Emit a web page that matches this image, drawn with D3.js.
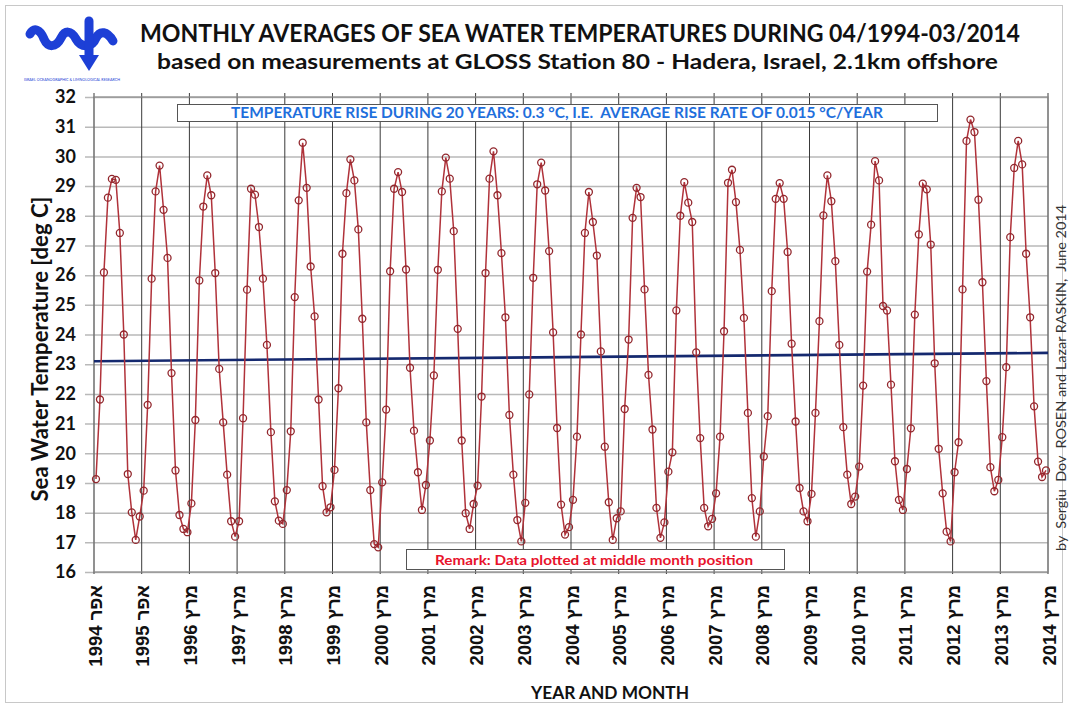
<html>

<head>
    <meta charset="utf-8">
    <script src="https://d3js.org/d3.v7.min.js"></script>
    <style>
        body { margin: 0; background: #fff; }
    </style>
</head>

<body>
    <svg id="chart" width="1069" height="704"></svg>
    <script>
        // monthly means, Apr 1994 .. Mar 2014
        var temps1994_1999 = [
            19.13, 21.81, 26.09, 28.61, 29.24, 29.21, 27.42, 24.00, 19.30, 18.01, 17.08, 17.87,
            18.74, 21.63, 25.88, 28.82, 29.69, 28.20, 26.58, 22.70, 19.42, 17.92, 17.45, 17.34,
            18.31, 21.12, 25.82, 28.31, 29.36, 28.69, 26.07, 22.84, 21.04, 19.28, 17.71, 17.19,
            17.71, 21.18, 25.51, 28.91, 28.71, 27.62, 25.88, 23.65, 20.71, 18.38, 17.73, 17.62,
            18.76, 20.74, 25.26, 28.52, 30.46, 28.94, 26.29, 24.61, 21.81, 18.89, 18.01, 18.18
        ];
        var temps1999_2004 = [
            19.44, 22.19, 26.72, 28.76, 29.90, 29.19, 27.54, 24.53, 21.04, 18.76, 16.94, 16.83,
            19.02, 21.47, 26.13, 28.91, 29.47, 28.80, 26.19, 22.88, 20.76, 19.36, 18.09, 18.93,
            20.43, 22.62, 26.18, 28.82, 29.96, 29.25, 27.48, 24.19, 20.43, 17.98, 17.45, 18.29,
            18.91, 21.91, 26.07, 29.25, 30.17, 28.69, 26.74, 24.58, 21.29, 19.28, 17.75, 17.03,
            18.33, 21.98, 25.91, 29.06, 29.79, 28.85, 26.81, 24.07, 20.85, 18.27, 17.26, 17.51
        ];
        var temps2004_2009 = [
            18.43, 20.56, 24.00, 27.42, 28.80, 27.79, 26.66, 23.43, 20.22, 18.35, 17.08, 17.81,
            18.04, 21.49, 23.83, 27.93, 28.94, 28.63, 25.52, 22.64, 20.80, 18.16, 17.15, 17.67,
            19.38, 20.03, 24.81, 28.00, 29.13, 28.44, 27.79, 23.40, 20.51, 18.16, 17.54, 17.79,
            18.65, 20.56, 24.11, 29.11, 29.55, 28.46, 26.85, 24.56, 21.36, 18.49, 17.19, 18.04,
            19.89, 21.25, 25.46, 28.57, 29.10, 28.57, 26.78, 23.69, 21.07, 18.83, 18.04, 17.71
        ];
        var temps2009_2014 = [
            18.63, 21.36, 24.45, 28.01, 29.36, 28.49, 26.47, 23.65, 20.88, 19.28, 18.29, 18.54,
            19.55, 22.28, 26.12, 27.70, 29.84, 29.19, 24.96, 24.81, 22.31, 19.73, 18.43, 18.09,
            19.47, 20.84, 24.67, 27.37, 29.08, 28.89, 27.03, 23.03, 20.15, 18.65, 17.36, 17.03,
            19.36, 20.37, 25.52, 30.52, 31.24, 30.82, 28.54, 25.76, 22.43, 19.53, 18.72, 19.10,
            20.54, 22.90, 27.28, 29.61, 30.52, 29.73, 26.72, 24.58, 21.58, 19.72, 19.20, 19.42
        ];
        var trendEnds = [23.10, 23.38];
        var yearLabels = ["1994 אפר", "1995 אפר", "1996 מרץ", "1997 מרץ", "1998 מרץ", "1999 מרץ",
            "2000 מרץ", "2001 מרץ", "2002 מרץ", "2003 מרץ", "2004 מרץ", "2005 מרץ", "2006 מרץ",
            "2007 מרץ", "2008 מרץ", "2009 מרץ", "2010 מרץ", "2011 מרץ", "2012 מרץ", "2013 מרץ", "2014 מרץ"];
        var yTicks = d3.range(16, 33);

        var temps = temps1994_1999.concat(temps1999_2004, temps2004_2009, temps2009_2014);

        var svg = d3.select("#chart"),
            margin = { top: 97, right: 21, bottom: 132, left: 94 },
            width = 1069 - margin.left - margin.right,
            height = 704 - margin.top - margin.bottom;

        var font = "Lato, 'Open Sans', sans-serif";

        // outer frame
        svg.append("rect")
            .attr("x", 5.5).attr("y", 5.5)
            .attr("width", 1057).attr("height", 697)
            .attr("fill", "#fff").attr("stroke", "#c8c8c8");

        // logo
        var logo = svg.append("g").attr("fill", "none").attr("stroke", "#1d3fd6")
            .attr("stroke-width", 9).attr("stroke-linecap", "round").attr("stroke-linejoin", "round");
        logo.append("path")
            .attr("d", "M30,34 C34,27 40,29 44,39 C48,48 56,48 61,38 C65,30 71,30 76,39 C81,48 92,48 96,38 C100,30 107,31 113,41");
        logo.append("path").attr("d", "M89,21 L89,58");
        svg.append("path")
            .attr("d", "M79,55 L99,55 L89,71 Z")
            .attr("fill", "#1d3fd6");
        svg.append("text")
            .attr("x", 24).attr("y", 81)
            .attr("textLength", 96).attr("lengthAdjust", "spacingAndGlyphs")
            .style("font-family", font).style("font-size", "4px").attr("fill", "#1d3fd6")
            .text("ISRAEL OCEANOGRAPHIC & LIMNOLOGICAL RESEARCH");

        // titles
        svg.append("text")
            .attr("x", 140).attr("y", 42)
            .attr("textLength", 880).attr("lengthAdjust", "spacingAndGlyphs")
            .style("font-family", font).style("font-size", "24px").style("font-weight", "bold")
            .attr("fill", "#111")
            .text("MONTHLY AVERAGES OF SEA WATER TEMPERATURES DURING 04/1994-03/2014");
        svg.append("text")
            .attr("x", 157).attr("y", 69)
            .attr("textLength", 841).attr("lengthAdjust", "spacingAndGlyphs")
            .style("font-family", font).style("font-size", "21px").style("font-weight", "bold")
            .attr("fill", "#111")
            .text("based on measurements at GLOSS Station 80 - Hadera, Israel, 2.1km offshore");

        var x = d3.scaleLinear().domain([0, temps.length]).range([0, width]),
            y = d3.scaleLinear().domain([16, 32]).range([height, 0]);

        var g = svg.append("g")
            .attr("transform", "translate(" + margin.left + "," + margin.top + ")");

        // horizontal grid + left ticks
        g.append("g")
            .attr("class", "y axis")
            .call(d3.axisLeft(y).tickValues(yTicks).tickSize(-width).tickPadding(18).tickFormat(d3.format("d")))
            .call(function (a) {
                a.select(".domain").remove();
                a.selectAll(".tick line").attr("stroke", "#b9b9b9").attr("stroke-width", 1.5).attr("x1", -9);
                a.selectAll(".tick text")
                    .style("font-family", font).style("font-size", "18px").style("font-weight", "bold")
                    .attr("fill", "#111");
            });

        // vertical year lines
        var yearPos = yearLabels.map(function (_, i) { return i * 12; });
        g.selectAll(".yline")
            .data(yearPos)
            .enter().append("line")
            .attr("class", "yline")
            .attr("x1", function (d) { return x(d); })
            .attr("x2", function (d) { return x(d); })
            .attr("y1", -4).attr("y2", height + 2)
            .attr("stroke", "#3a3a3a").attr("stroke-width", 1);

        g.append("rect")
            .attr("width", width).attr("height", height)
            .attr("fill", "none").attr("stroke", "#8a8a8a").attr("stroke-width", 1.2);

        // x labels (rotated)
        g.selectAll(".xlab")
            .data(yearLabels)
            .enter().append("text")
            .attr("class", "xlab")
            .attr("transform", function (d, i) {
                return "translate(" + (x(i * 12) + 1) + "," + (height + 13) + ") rotate(-90)";
            })
            .attr("text-anchor", "end")
            .attr("dominant-baseline", "central")
            .attr("direction", "ltr")
            .style("font-family", "'Liberation Sans', Arial, sans-serif")
            .style("font-size", "18.5px").style("font-weight", "bold")
            .attr("fill", "#111")
            .text(function (d) { return d; });

        // trend line
        g.append("line")
            .attr("x1", x(0)).attr("x2", x(temps.length))
            .attr("y1", y(trendEnds[0])).attr("y2", y(trendEnds[1]))
            .attr("stroke", "#15296f").attr("stroke-width", 2.6);

        // data line + markers
        var line = d3.line()
            .x(function (d, i) { return x(i + 0.5); })
            .y(function (d) { return y(d); });

        g.append("path")
            .datum(temps)
            .attr("d", line)
            .attr("fill", "none")
            .attr("stroke", "#b0323a")
            .attr("stroke-width", 1.5);

        g.selectAll(".dot")
            .data(temps)
            .enter().append("circle")
            .attr("class", "dot")
            .attr("cx", function (d, i) { return x(i + 0.5); })
            .attr("cy", function (d) { return y(d); })
            .attr("r", 3.5)
            .attr("fill", "none")
            .attr("stroke", "#92272d")
            .attr("stroke-width", 1.3);

        // info boxes
        svg.append("rect")
            .attr("x", 177.5).attr("y", 104.5).attr("width", 760).attr("height", 17)
            .attr("fill", "#fff").attr("stroke", "#555");
        svg.append("text")
            .attr("x", 231).attr("y", 118)
            .attr("textLength", 652).attr("lengthAdjust", "spacingAndGlyphs")
            .style("white-space", "pre")
            .style("font-family", font).style("font-size", "15px").style("font-weight", "bold")
            .attr("fill", "#1f6fdc")
            .text("TEMPERATURE RISE DURING 20 YEARS: 0.3 °C, I.E.  AVERAGE RISE RATE OF 0.015 °C/YEAR");

        svg.append("rect")
            .attr("x", 406.5).attr("y", 549.5).attr("width", 378).attr("height", 20)
            .attr("fill", "#fff").attr("stroke", "#555");
        svg.append("text")
            .attr("x", 435).attr("y", 565)
            .attr("textLength", 318).attr("lengthAdjust", "spacingAndGlyphs")
            .style("font-family", font).style("font-size", "14px").style("font-weight", "bold")
            .attr("fill", "#e8132b")
            .text("Remark: Data plotted at middle month position");

        // axis titles
        svg.append("text")
            .attr("transform", "translate(48,349) rotate(-90)")
            .attr("text-anchor", "middle")
            .attr("textLength", 305).attr("lengthAdjust", "spacingAndGlyphs")
            .style("font-family", font).style("font-size", "22px").style("font-weight", "bold")
            .attr("fill", "#111")
            .text("Sea Water Temperature [deg C]");

        svg.append("text")
            .attr("x", 610).attr("y", 699)
            .attr("text-anchor", "middle")
            .attr("textLength", 158).attr("lengthAdjust", "spacingAndGlyphs")
            .style("font-family", font).style("font-size", "16.5px").style("font-weight", "bold")
            .attr("fill", "#111")
            .text("YEAR AND MONTH");

        svg.append("text")
            .attr("transform", "translate(1066,378) rotate(-90)")
            .attr("text-anchor", "middle")
            .attr("textLength", 346).attr("lengthAdjust", "spacingAndGlyphs")
            .style("white-space", "pre")
            .style("font-family", font).style("font-size", "12.5px")
            .attr("fill", "#333")
            .text("by  Sergiu  Dov  ROSEN and Lazar RASKIN,  June 2014");
    </script>
</body>

</html>
